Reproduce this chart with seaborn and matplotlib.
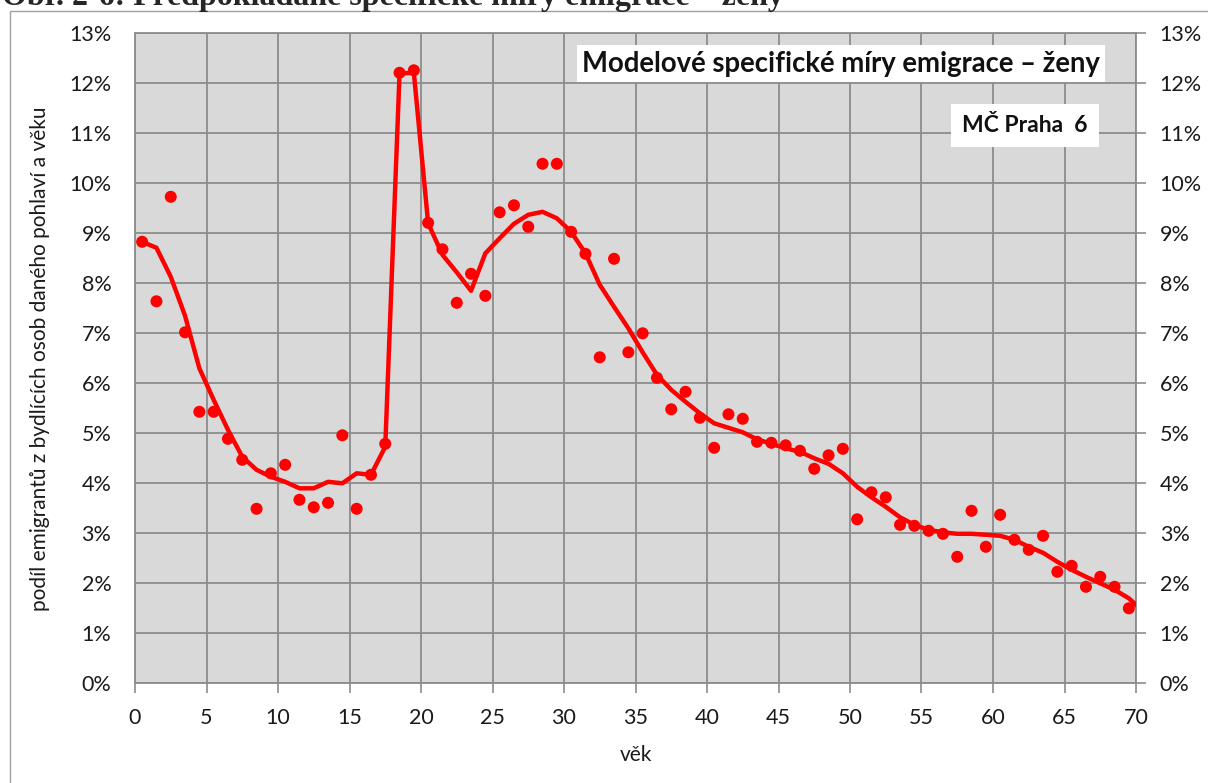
import numpy as np
import pandas as pd
import matplotlib
matplotlib.use("Agg")
import matplotlib.pyplot as plt
import seaborn as sns
from matplotlib.patches import Rectangle
from matplotlib.ticker import PercentFormatter, MultipleLocator

# ==========================================
# Data (in %)
# ==========================================
ages = np.arange(70)

# observed specific emigration rates (dots)
observed = [
    8.83, 7.64, 9.73, 7.02, 5.43, 5.43, 4.89, 4.47, 3.49, 4.20,
    4.37, 3.67, 3.52, 3.61, 4.96, 3.49, 4.17, 4.79, 12.21, 12.26,
    9.21, 8.68, 7.61, 8.19, 7.75, 9.42, 9.56, 9.13, 10.39, 10.39,
    9.03, 8.59, 6.52, 8.49, 6.62, 7.00, 6.11, 5.48, 5.83, 5.31,
    4.71, 5.38, 5.29, 4.83, 4.81, 4.76, 4.65, 4.29, 4.56, 4.69,
    3.28, 3.82, 3.72, 3.17, 3.15, 3.05, 2.99, 2.53, 3.45, 2.73,
    3.37, 2.87, 2.67, 2.95, 2.23, 2.35, 1.93, 2.13, 1.93, 1.50,
]

# model (smoothed) rates, one extra value past the last age
model = [
    8.83, 8.71, 8.13, 7.35, 6.30, 5.67, 5.07, 4.53, 4.27, 4.13,
    4.03, 3.90, 3.90, 4.03, 4.00, 4.20, 4.17, 4.73, 12.20, 12.21,
    9.20, 8.57, 8.22, 7.85, 8.60, 8.90, 9.19, 9.37, 9.43, 9.30,
    9.03, 8.60, 7.97, 7.53, 7.10, 6.62, 6.17, 5.87, 5.63, 5.40,
    5.20, 5.11, 5.02, 4.88, 4.79, 4.70, 4.63, 4.50, 4.39, 4.20,
    3.93, 3.72, 3.53, 3.32, 3.17, 3.07, 3.02, 2.99, 2.99, 2.97,
    2.95, 2.87, 2.73, 2.61, 2.43, 2.27, 2.13, 2.00, 1.87, 1.70,
    1.44,
]
model_ages = np.arange(71)

dots = pd.DataFrame({"vek": ages + 0.5, "mira": observed})
curve = pd.DataFrame({"vek": model_ages + 0.5, "mira": model})

RED = "#ff0000"
GRID = "#8c8c8c"
BG = "#d9d9d9"
TXT = "#1a1a1a"

sns.set_style("white")
plt.rcParams["font.family"] = ["Lato", "DejaVu Sans"]

fig = plt.figure(figsize=(12.08, 7.83), dpi=100)
ax = fig.add_axes([135 / 1208, 99.7 / 783, 1001 / 1208, 650 / 783])
ax.set_facecolor(BG)

sns.lineplot(data=curve, x="vek", y="mira", ax=ax, color=RED, lw=3.2,
             zorder=3)
sns.scatterplot(data=dots, x="vek", y="mira", ax=ax, color=RED, s=75,
                edgecolor="none", zorder=4)

ax.set_xlim(0, 70)
ax.set_ylim(0, 13)
ax.xaxis.set_major_locator(MultipleLocator(5))
ax.yaxis.set_major_locator(MultipleLocator(1))
ax.yaxis.set_major_formatter(PercentFormatter(decimals=0))
ax.grid(True, color=GRID, lw=1.3)
ax.set_axisbelow(True)
for side in ["left", "right", "top", "bottom"]:
    ax.spines[side].set_color(GRID)
    ax.spines[side].set_linewidth(1.3)

ax.tick_params(axis="both", length=7, width=1.2, color=GRID,
               labelsize=15.5, labelcolor=TXT)
ax.tick_params(axis="y", right=True, labelright=True, pad=10)
ax.tick_params(axis="x", bottom=True, pad=11)

ax.set_xlabel("věk", fontsize=15, labelpad=12, color=TXT)
ax.set_ylabel("podíl emigrantů z bydlících osob daného pohlaví a věku",
              fontsize=15, labelpad=14, color=TXT)

# text boxes inside the plot
ax.text(0.964, 0.9535, "Modelové specifické míry emigrace – ženy",
        transform=ax.transAxes, ha="right", va="center", fontsize=19.8,
        fontweight="bold", color="#111111",
        bbox=dict(facecolor="white", edgecolor="none", pad=4))
ax.text(0.952, 0.858, "MČ Praha  6", transform=ax.transAxes, ha="right",
        va="center", fontsize=16.5, fontweight="bold", color="#111111",
        bbox=dict(facecolor="white", edgecolor="none", pad=8))

# chart frame and the cropped caption above it
fig.patches.append(Rectangle((10 / 1208, -0.01), 1.02, 1 - 11 / 783 + 0.01,
                             transform=fig.transFigure, fill=False,
                             edgecolor="#a0a0a0", lw=1.0))
fig.text(0.002, 1 - 5 / 783, "Obr. 2-6: Předpokládané specifické míry emigrace – ženy",
         ha="left", va="baseline", fontsize=23, fontweight="bold",
         family=["Liberation Serif", "DejaVu Serif"])

fig.savefig("out.png", dpi=100)
